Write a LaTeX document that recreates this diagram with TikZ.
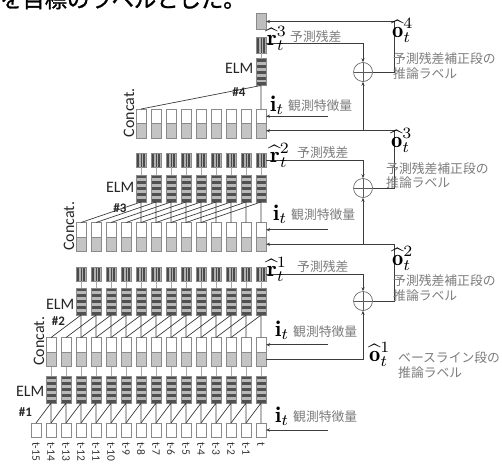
\documentclass[tikz,border=0pt]{standalone}
\usepackage{fontspec}
\usepackage{graphicx}
\setsansfont{Carlito}
\newfontfamily\jpfont{Noto Sans CJK JP}
\newfontfamily\jphead[FakeBold=1.2]{Noto Sans CJK JP}
\usetikzlibrary{arrows.meta,calc}
\definecolor{lin}{HTML}{3C3C3C}
\definecolor{boxc}{HTML}{8A8A8A}
\definecolor{catg}{HTML}{C4C4C4}
\definecolor{elmd}{HTML}{505050}
\definecolor{elml}{HTML}{B8B8B8}
\definecolor{rd}{HTML}{4A4A4A}
\definecolor{rl}{HTML}{B0B0B0}
\definecolor{topg}{HTML}{BEBEBE}
\definecolor{jpg}{HTML}{7C7C7C}
\definecolor{thinc}{HTML}{A8A8A8}
\newcommand{\mybigmath}[1]{\scalebox{2.25}{$#1$}}
\tikzset{
 bx/.style={draw=boxc, line width=0.6pt, inner sep=0pt, outer sep=0pt, minimum width=10pt},
 inbox/.style={bx, fill=white, minimum height=14pt},
 catbox/.style={bx, fill=white, minimum height=29pt, path picture={
   \fill[catg] (path picture bounding box.west) rectangle (path picture bounding box.south east);
   \draw[boxc, line width=0.5pt] (path picture bounding box.west) -- (path picture bounding box.east);}},
 elmbox/.style={bx, fill=elmd, minimum height=27pt, path picture={
   \foreach \ya/\yb in {3.5/6,9/12,15/18,21/24}{\fill[elml] ([yshift=\ya pt]path picture bounding box.south west) rectangle ([yshift=\yb pt]path picture bounding box.south east);}}},
 rbox/.style={bx, fill=rl, minimum height=14pt, path picture={
   \foreach \xa/\xb in {1/3,4.5/5.5,7/9}{\fill[rd] ([xshift=\xa pt]path picture bounding box.south west) rectangle ([xshift=\xb pt]path picture bounding box.north west);}}},
 topbox/.style={bx, fill=topg, minimum height=16pt},
 plus/.style={circle, draw=lin!85, line width=0.6pt, fill=white, minimum size=19pt, inner sep=0pt, path picture={
   \draw[lin!85, line width=0.6pt] (path picture bounding box.north) -- (path picture bounding box.south) (path picture bounding box.west) -- (path picture bounding box.east);}},
 conn/.style={draw=lin, line width=0.7pt},
 thinl/.style={draw=thinc, line width=0.6pt},
 arr/.style={conn, -{Stealth[length=4pt,width=3.2pt]}},
 lab/.style={font=\sffamily\fontsize{16}{18}\selectfont, text=black!85, inner sep=0.5pt},
 numlab/.style={font=\sffamily\bfseries\fontsize{13}{15}\selectfont, text=black!85, inner sep=0pt},
 tlab/.style={font=\sffamily\fontsize{11.5}{12}\selectfont, text=black!80, inner sep=0pt, rotate=-90, anchor=west},
 jp/.style={font=\jpfont\fontsize{12.8}{15}\selectfont, text=jpg, inner sep=0pt, anchor=base west},
 ml/.style={inner sep=0pt, anchor=base west},
}
\begin{document}
\begin{tikzpicture}[x=1pt,y=-1pt]
\useasboundingbox (0,0) rectangle (502,463);
\clip (0,0) rectangle (502,463);
\node[inner sep=0pt, anchor=base west] (head) at (0,7.5) {\scalebox{2}{\fontsize{11.15}{12}\selectfont\jphead を目標のラベルとした。}};

% ---- layer 1
\foreach \c in {0,...,15} \node[inbox] (in\c) at ({36+15*\c},430) {};
\foreach \c/\t in {0/t-15,1/t-14,2/t-13,3/t-12,4/t-11,5/t-10,6/t-9,7/t-8,8/t-7,9/t-6,10/t-5,11/t-4,12/t-3,13/t-2,14/t-1,15/t}
  \node[tlab] (tl\c) at ({36+15*\c},442) {\t};
\foreach \c in {1,...,15} \node[elmbox] (ea\c) at ({36+15*\c},389.5) {};
\foreach \c in {1,...,15}{\pgfmathtruncatemacro{\p}{\c-1}
  \draw[conn] (ea\c.south) -- (in\c.north) (ea\c.south) -- (in\p.north);}
\node[lab, anchor=east] (elmA) at (45,391) {ELM};
\node[numlab] (hA) at (25.5,412.5) {\#1};

% ---- layer 2
\foreach \c in {1,...,15} \node[catbox] (cb\c) at ({36+15*\c},352) {};
\foreach \c in {1,...,15} \draw[thinl] (cb\c.south) -- (ea\c.north);
\node[lab, rotate=90, anchor=south west] (catA) at (45,366.5) {Concat.};
\foreach \c in {3,...,15} \node[elmbox] (eb\c) at ({36+15*\c},301.5) {};
\foreach \c in {3,...,15}{\pgfmathtruncatemacro{\p}{\c-2}
  \draw[conn] (eb\c.south) -- (cb\c.north) (eb\c.south) -- (cb\p.north);}
\foreach \c in {3,...,15} \node[rbox] (ra\c) at ({36+15*\c},274) {};
\foreach \c in {3,...,15} \draw[thinl] (ra\c.south) -- (eb\c.north);
\node[lab, anchor=east] (elmB) at (75,304) {ELM};
\node[numlab] (hB) at (58.5,321) {\#2};

% ---- layer 3
\foreach \c in {3,...,15} \node[catbox] (cc\c) at ({36+15*\c},237) {};
\node[lab, rotate=90, anchor=south west] (catB) at (75,251.5) {Concat.};
\foreach \c in {7,...,15} \node[elmbox] (ec\c) at ({36+15*\c},188.5) {};
\foreach \c in {7,...,15}{\pgfmathtruncatemacro{\p}{\c-4}
  \draw[conn] (ec\c.south) -- (cc\c.north) (ec\c.south) -- (cc\p.north);}
\foreach \c in {7,...,15} \node[rbox] (rb\c) at ({36+15*\c},160) {};
\foreach \c in {7,...,15} \draw[thinl] (rb\c.south) -- (ec\c.north);
\node[lab, anchor=east] (elmC) at (135,187) {ELM};
\node[numlab] (hC) at (120,208) {\#3};

% ---- layer 4
\foreach \c in {7,...,15} \node[catbox] (cd\c) at ({36+15*\c},123.5) {};
\node[lab, rotate=90, anchor=south west] (catC) at (135,138) {Concat.};
\node[elmbox] (ed) at (261,72) {};
\draw[conn] (ed.south) -- (cd15.north) (ed.south) -- (cd7.north);
\node[rbox, minimum height=16pt] (rc) at (261,45) {};
\draw[thinl] (rc.south) -- (ed.north);
\node[topbox] (ot) at (261,21.5) {};
\node[lab, anchor=east] (elmD) at (254,68) {ELM};
\node[numlab] (hD) at (239,92) {\#4};

% ---- adders
\node[plus] (p2) at (363,301) {};
\node[plus] (p3) at (363,188) {};
\node[plus] (p4) at (363,72) {};

\coordinate (g3) at ([yshift=-7.25pt]cc15.east);
\coordinate (g4) at ([yshift=-7.25pt]cd15.east);
\coordinate (g2) at ([yshift=-7.25pt]cb15.east);

\draw[arr] (g2) -| (p2.south);
\draw[arr] (ra15.east) -| (p2.north);
\draw[arr] (p2.east) -- ++(22,0) |- (g3);
\draw[arr] (p2 |- g3) -- (p3.south);
\draw[arr] (rb15.east) -| (p3.north);
\draw[arr] (p3.east) -- ++(22,0) |- (g4);
\draw[arr] (p3 |- g4) -- (p4.south);
\draw[arr] ([yshift=2pt]rc.east) -| (p4.north);
\draw[arr] (p4.east) -- ++(22,0) |- (ot.east);

% ---- observation inputs
\coordinate (w4) at ([yshift=7.25pt]cd15.east);
\coordinate (w3) at ([yshift=7.25pt]cc15.east);
\coordinate (w2) at ([yshift=7.25pt]cb15.east);
\draw[arr] ([xshift=62pt]w4) -- (w4);
\draw[arr] ([xshift=62pt]w3) -- (w3);
\draw[arr] ([xshift=62pt]w2) -- (w2);
\draw[arr] ([xshift=62pt]in15.east) -- (in15.east);

% ---- labels right
\node[ml] (rl3) at (267,45) {\mybigmath{\widehat{\mathbf{r}}_t^3}};
\node[jp] (rj3) at (290,41) {予測残差};
\node[ml] (rl2) at (270,162) {\mybigmath{\widehat{\mathbf{r}}_t^2}};
\node[jp] (rj2) at (297,157) {予測残差};
\node[ml] (rl1) at (267,276) {\mybigmath{\widehat{\mathbf{r}}_t^1}};
\node[jp] (rj1) at (297,271) {予測残差};

\node[ml] (il4) at (270,111) {\mybigmath{\mathbf{i}_t}};
\node[jp] (ij4) at (288,110) {観測特徴量};
\node[ml] (il3) at (273,220) {\mybigmath{\mathbf{i}_t}};
\node[jp] (ij3) at (291,219) {観測特徴量};
\node[ml] (il2) at (275,336) {\mybigmath{\mathbf{i}_t}};
\node[jp] (ij2) at (293,336) {観測特徴量};
\node[ml] (il1) at (275,422) {\mybigmath{\mathbf{i}_t}};
\node[jp] (ij1) at (293,421.5) {観測特徴量};

\node[ml] (ol4) at (392,37) {\mybigmath{\widehat{\mathbf{o}}_t^4}};
\node[jp] (oa4) at (393,63.5) {予測残差補正段の};
\node[jp] (ob4) at (393,78.5) {推論ラベル};
\node[ml] (ol3) at (391,147) {\mybigmath{\widehat{\mathbf{o}}_t^3}};
\node[jp] (oa3) at (386,173.5) {予測残差補正段の};
\node[jp] (ob3) at (386,187.5) {推論ラベル};
\node[ml] (ol2) at (392,265) {\mybigmath{\widehat{\mathbf{o}}_t^2}};
\node[jp] (oa2) at (393,285.5) {予測残差補正段の};
\node[jp] (ob2) at (393,300) {推論ラベル};
\node[ml] (ol1) at (369,361) {\mybigmath{\widehat{\mathbf{o}}_t^1}};
\node[jp] (oa1) at (398,362) {ベースライン段の};
\node[jp] (ob1) at (398,377.5) {推論ラベル};
\end{tikzpicture}
\end{document}
